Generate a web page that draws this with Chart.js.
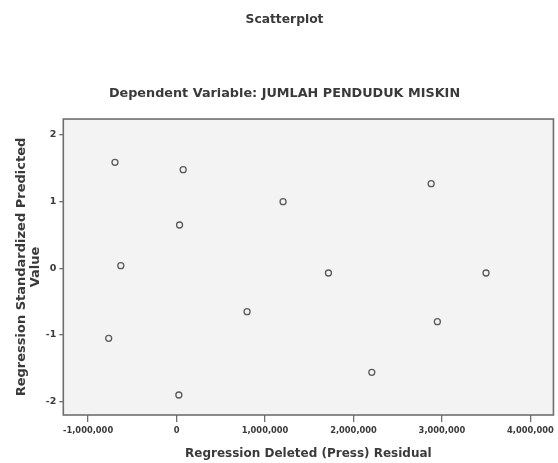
<!DOCTYPE html>
<html>
<head>
<meta charset="utf-8">
<script src="https://cdn.jsdelivr.net/npm/chart.js@4/dist/chart.umd.min.js"></script>
<style>
html,body{margin:0;padding:0;background:#fff;}
#wrap{width:558px;height:463px;position:relative;}
</style>
</head>
<body>
<div id="wrap"><canvas id="c" width="558" height="463"></canvas></div>
<script>
// Data
const residuals = [-696000, 75000, 34000, -630000, 1204000, 1717000, 2878000, 3498000, 2948000, -767000, 797000, 26000, 2207000];
const predicted = [1.59, 1.48, 0.65, 0.04, 1.00, -0.07, 1.27, -0.07, -0.80, -1.05, -0.65, -1.90, -1.56];
const xTickValues = [-1000000, 0, 1000000, 2000000, 3000000, 4000000];
const yTickValues = [-2, -1, 0, 1, 2];
const chartTitle = 'Scatterplot';
const chartSubtitle = 'Dependent Variable: JUMLAH PENDUDUK MISKIN';
const xTitle = 'Regression Deleted (Press) Residual';
const yTitle = ['Regression Standardized Predicted', 'Value'];

const FONT = "'DejaVu Sans', 'Liberation Sans', Arial, sans-serif";
const TXT = '#3a3a3a';

const plotBox = {
  id: 'plotBox',
  beforeDraw(chart) {
    const a = chart.chartArea, ctx = chart.ctx;
    ctx.save();
    ctx.fillStyle = '#f3f3f3';
    ctx.fillRect(a.left, a.top, a.right - a.left, a.bottom - a.top);
    ctx.restore();
  },
  afterDatasetsDraw(chart) {
    const a = chart.chartArea, ctx = chart.ctx;
    ctx.save();
    ctx.strokeStyle = '#6e6e6e';
    ctx.lineWidth = 1.6;
    ctx.strokeRect(a.left, a.top, a.right - a.left, a.bottom - a.top);
    ctx.restore();
  }
};

new Chart(document.getElementById('c'), {
  type: 'scatter',
  data: {
    datasets: [{
      data: residuals.map((x, i) => ({x: x, y: predicted[i]})),
      pointRadius: 3,
      pointHoverRadius: 3,
      borderWidth: 1.3,
      borderColor: '#5a5a5a',
      backgroundColor: 'rgba(0,0,0,0)'
    }]
  },
  options: {
    responsive: false,
    animation: false,
    devicePixelRatio: 1,
    layout: {padding: {left: 12, right: 1, top: 0, bottom: 0}},
    plugins: {
      legend: {display: false},
      tooltip: {enabled: false},
      title: {
        display: true, text: chartTitle, color: TXT,
        font: {family: FONT, size: 12.3, weight: 'bold', lineHeight: 1.2},
        padding: {top: 12.6, bottom: 59}
      },
      subtitle: {
        display: true, text: chartSubtitle, color: TXT,
        font: {family: FONT, size: 12.8, weight: 'bold', lineHeight: 1.2},
        padding: {top: 0, bottom: 17.3}
      }
    },
    scales: {
      x: {
        type: 'linear',
        min: -1280000, max: 4260000,
        afterBuildTicks: s => { s.ticks = xTickValues.map(v => ({value: v})); },
        afterFit: s => { s.height = 48; },
        border: {display: false},
        grid: {drawOnChartArea: false, drawTicks: true, tickLength: 7, color: '#6e6e6e', lineWidth: 1.3},
        ticks: {
          color: TXT, padding: 4, maxRotation: 0, autoSkip: false,
          font: {family: FONT, size: 8.3, weight: 'bold'},
          callback: v => Number(v).toLocaleString('en-US')
        },
        title: {
          display: true, text: xTitle, color: TXT,
          font: {family: FONT, size: 12, weight: 'bold', lineHeight: 1.2},
          padding: {top: 0, bottom: 1.8}
        }
      },
      y: {
        type: 'linear',
        min: -2.2, max: 2.24,
        afterBuildTicks: s => { s.ticks = yTickValues.map(v => ({value: v})); },
        afterFit: s => { s.width = 51.3; },
        border: {display: false},
        grid: {drawOnChartArea: false, drawTicks: true, tickLength: 4, color: '#6e6e6e', lineWidth: 1.3},
        ticks: {
          color: TXT, padding: 3, autoSkip: false,
          font: {family: FONT, size: 9.5, weight: 'bold'},
          callback: v => String(v)
        },
        title: {
          display: true, text: yTitle, color: TXT,
          font: {family: FONT, size: 13, weight: 'bold', lineHeight: 1.08},
          padding: {top: 3, bottom: 0}
        }
      }
    }
  },
  plugins: [plotBox]
});
</script>
</body>
</html>
